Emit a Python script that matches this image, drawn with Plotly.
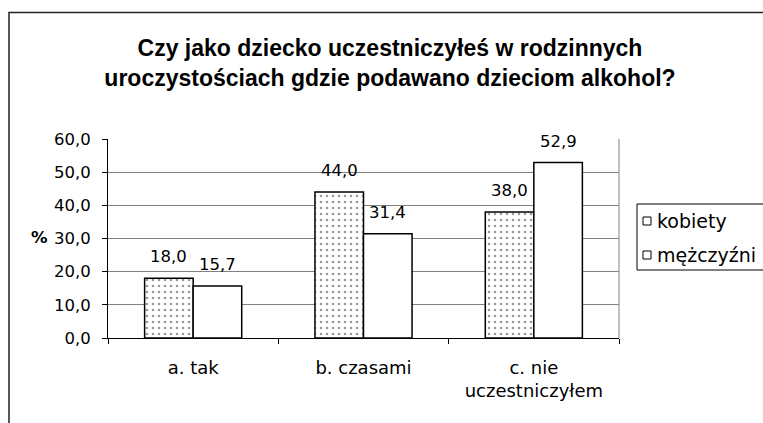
import plotly.graph_objects as go

categories = ["a. tak", "b. czasami", "c. nie<br>uczestniczyłem"]
kobiety = [18.0, 44.0, 38.0]
mezczyzni = [15.7, 31.4, 52.9]
series_names = ["kobiety", "mężczyźni"]
title = "Czy jako dziecko uczestniczyłeś w rodzinnych<br>uroczystościach gdzie podawano dzieciom alkohol?"

W, H = 763, 423
L, R, T, B = 108, 144, 139, 85
pw = W - L - R
ph = H - T - B

FAM = "DejaVu Sans, Liberation Sans, Arial, sans-serif"
font = dict(family=FAM, size=16.5, color="black")
catfont = dict(family=FAM, size=18, color="black")
legfont = dict(family=FAM, size=19, color="black")
BARGAP = 0.43

fig = go.Figure()
fig.add_bar(
    x=categories, y=kobiety, name=series_names[0], showlegend=False,
    marker=dict(color="white", line=dict(color="black", width=1.5),
                pattern=dict(shape=".", fgcolor="#333333", bgcolor="white", size=6, solidity=0.15)),
)
fig.add_bar(
    x=categories, y=mezczyzni, name=series_names[1], showlegend=False,
    marker=dict(color="white", line=dict(color="black", width=1.5)),
)

def px2x(p):
    return (p - L) / pw

def px2y(p):
    return (H - B - p) / ph

# value labels above bars
cat_px = pw / len(categories)
half_bar = cat_px * (1 - BARGAP) / 4
annotations = []
for vals, sign in ((kobiety, -1), (mezczyzni, 1)):
    for c, v in zip(categories, vals):
        annotations.append(dict(
            x=c, y=v, xref="x", yref="y", text=f"{v:.1f}".replace(".", ","),
            showarrow=False, xanchor="center", yanchor="bottom",
            xshift=sign * half_bar, yshift=10, font=font))

annotations.append(dict(text="<b>%</b>", x=px2x(39.5), y=px2y(237), xref="paper", yref="paper",
                        showarrow=False, xanchor="center", yanchor="middle", font=font))

# manual legend
leg_items_y = [221, 255]
shapes = [
    dict(type="rect", xref="paper", yref="paper", x0=px2x(9), x1=px2x(800),
         y0=px2y(440), y1=px2y(12.5), line=dict(color="#222222", width=1.5)),
    dict(type="line", xref="paper", yref="paper", x0=1, x1=1, y0=0, y1=1,
         line=dict(color="#808080", width=1)),
    dict(type="rect", xref="paper", yref="paper", x0=px2x(637), x1=px2x(800),
         y0=px2y(270), y1=px2y(204), line=dict(color="black", width=1), fillcolor="white"),
]
for name, yy in zip(series_names, leg_items_y):
    shapes.append(dict(type="rect", xref="paper", yref="paper", x0=px2x(643), x1=px2x(651),
                       y0=px2y(yy + 4), y1=px2y(yy - 4), line=dict(color="black", width=1),
                       fillcolor="white"))
    annotations.append(dict(text=name, x=px2x(655), y=px2y(yy), xref="paper", yref="paper",
                            showarrow=False, xanchor="left", yanchor="middle", font=legfont))

fig.update_layout(
    width=W, height=H,
    margin=dict(l=L, r=R, t=T, b=B, autoexpand=False),
    paper_bgcolor="white", plot_bgcolor="white",
    separators=", ",
    font=font,
    barmode="group", bargap=BARGAP, bargroupgap=0,
    showlegend=False,
    title=dict(text="<b>" + title + "</b>", x=px2x(390), xref="paper",
               y=1 - 56 / H, yanchor="top", xanchor="center",
               font=dict(family="Liberation Sans, Arial, sans-serif", size=23, color="black")),
    xaxis=dict(type="category", showline=True, linecolor="black", linewidth=1,
               ticks="outside", tickson="boundaries", ticklen=5, tickcolor="black",
               showgrid=False, tickfont=catfont, ticklabelstandoff=13),
    yaxis=dict(range=[0, 60], dtick=10, tickformat=".1f", showline=True, linecolor="black",
               linewidth=1, ticks="outside", ticklen=5, tickcolor="black",
               showgrid=True, gridcolor="#808080", gridwidth=1, tickfont=font,
               zeroline=False, ticklabelstandoff=8),
    annotations=annotations,
    shapes=shapes,
)

fig.write_html("out.html", config={"displayModeBar": False},
               post_script="document.body.style.margin='0';document.body.style.overflow='hidden';")
